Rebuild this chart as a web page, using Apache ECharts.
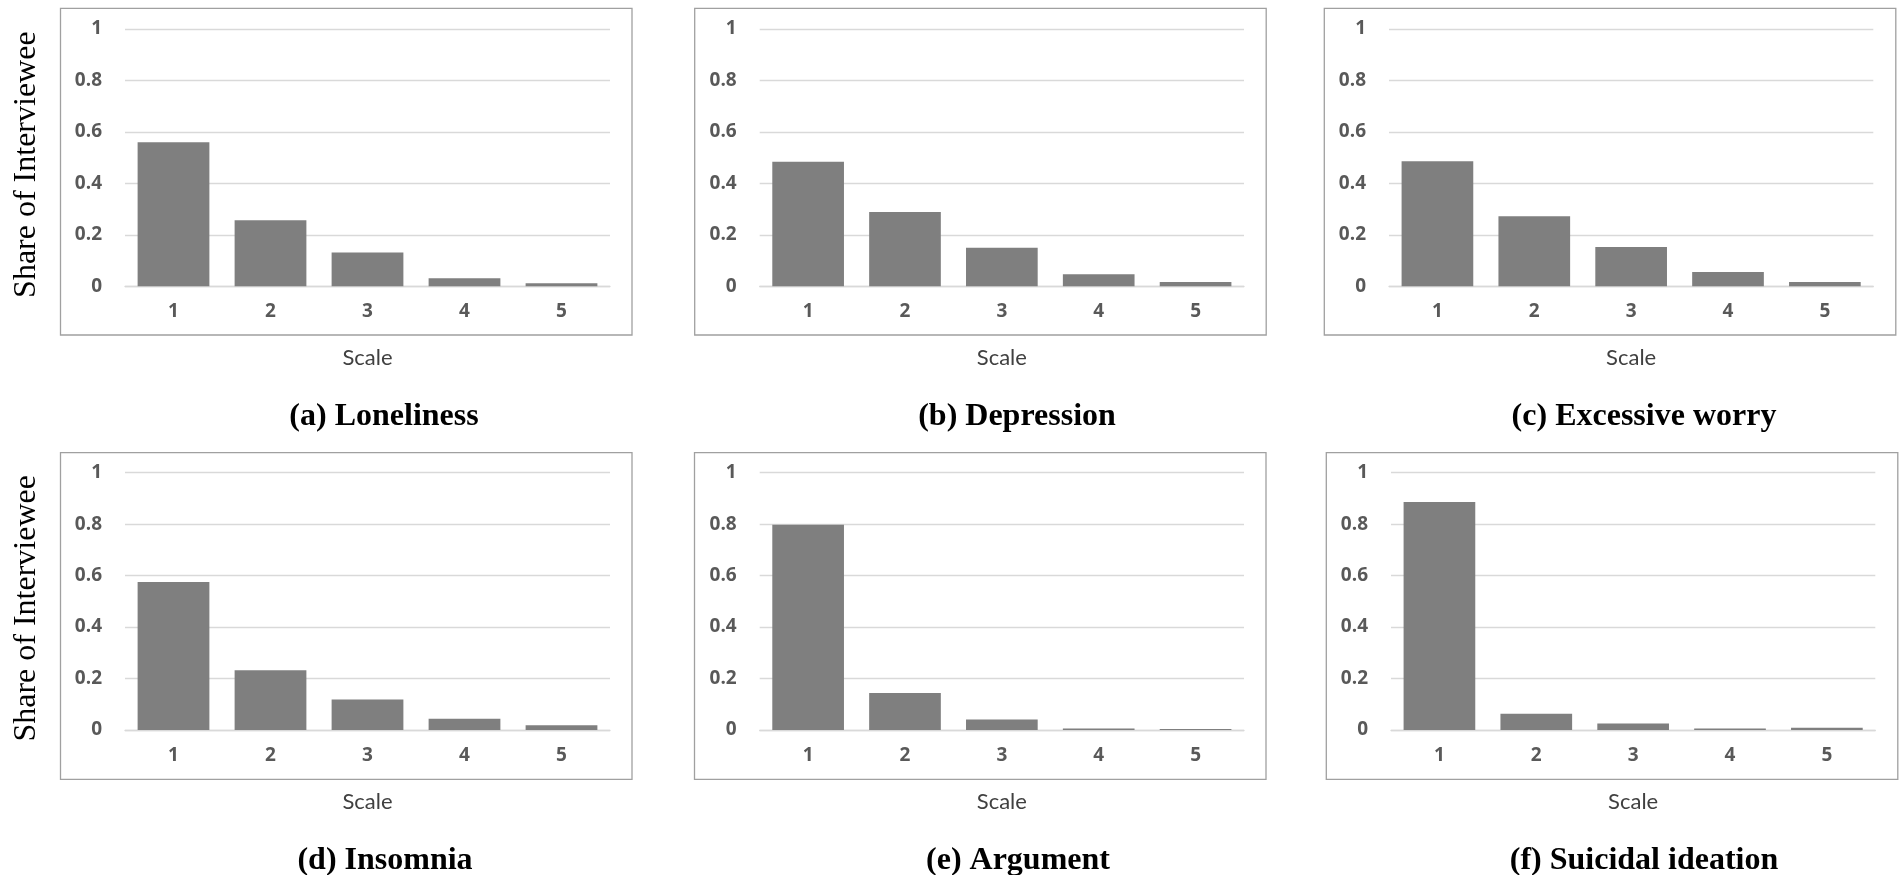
<!DOCTYPE html>
<html>
<head>
<meta charset="utf-8">
<script src="https://cdn.jsdelivr.net/npm/echarts@6/dist/echarts.min.js"></script>
<style>
  html, body { margin: 0; padding: 0; background: #ffffff; }
  #chart { width: 1901px; height: 875px; }
</style>
</head>
<body>
<div id="chart"></div>
<script>
// ---- data ----
const categories = ['1', '2', '3', '4', '5'];
const loneliness = [0.560, 0.257, 0.131, 0.031, 0.012];
const depression = [0.484, 0.289, 0.150, 0.047, 0.017];
const excessiveWorry = [0.486, 0.272, 0.153, 0.056, 0.017];
const insomnia = [0.575, 0.232, 0.119, 0.044, 0.018];
const argument = [0.798, 0.144, 0.041, 0.006, 0.004];
const suicidalIdeation = [0.886, 0.063, 0.025, 0.006, 0.009];
const panelTitles = ['(a) Loneliness', '(b) Depression', '(c) Excessive worry',
                     '(d) Insomnia', '(e) Argument', '(f) Suicidal ideation'];
const xAxisTitle = 'Scale';
const yAxisTitle = 'Share of Interviewee';
const yMin = 0, yMax = 1, yStep = 0.2;

// ---- layout (pixels) ----
const panels = [
  { data: loneliness,       grid: [125, 29, 485, 257.3],    box: [60.5, 8.3],   titleX: 379,  titleY: 412, nameY: true },
  { data: depression,       grid: [759.7, 29, 484.3, 257.3], box: [694.7, 8.3], titleX: 1012, titleY: 412 },
  { data: excessiveWorry,   grid: [1389, 29, 484.3, 257.3],  box: [1324.3, 8.3], titleX: 1639, titleY: 412 },
  { data: insomnia,         grid: [125, 472.7, 485, 257.3],  box: [60.5, 452.7], titleX: 380, titleY: 856, nameY: true },
  { data: argument,         grid: [759.7, 472.7, 484.3, 257.3], box: [694.5, 452.7], titleX: 1013, titleY: 856 },
  { data: suicidalIdeation, grid: [1391, 472.7, 484.3, 257.3], box: [1326.3, 452.7], titleX: 1639, titleY: 856 }
];
const boxW = 571.5, boxH = 326.7;

const grids = [], xAxes = [], yAxes = [], series = [], titles = [], graphics = [];
panels.forEach((p, i) => {
  grids.push({ left: p.grid[0], top: p.grid[1], width: p.grid[2], height: p.grid[3], containLabel: false });
  xAxes.push({
    type: 'category', gridIndex: i, data: categories,
    axisLine: { show: true, lineStyle: { color: '#d9d9d9', width: 1.3 } },
    axisTick: { show: false },
    axisLabel: { color: '#595959', fontFamily: 'Open Sans', fontWeight: 'bold', fontSize: 19, margin: 16 },
    name: xAxisTitle, nameLocation: 'middle', nameGap: 61,
    nameTextStyle: { color: '#404040', fontFamily: 'Lato', fontSize: 22 }
  });
  yAxes.push({
    type: 'value', gridIndex: i, min: yMin, max: yMax, interval: yStep,
    axisLine: { show: false }, axisTick: { show: false },
    splitLine: { show: true, lineStyle: { color: '#d9d9d9', width: 1.3 } },
    axisLabel: { color: '#595959', fontFamily: 'Open Sans', fontWeight: 'bold', fontSize: 19, margin: 23 },
    name: p.nameY ? yAxisTitle : '', nameLocation: 'middle', nameGap: 82,
    nameTextStyle: { color: '#000000', fontFamily: 'Liberation Serif', fontSize: 32, padding: [0, 14, 0, 0] }
  });
  series.push({
    type: 'bar', xAxisIndex: i, yAxisIndex: i, data: p.data,
    barCategoryGap: '26%', itemStyle: { color: '#7f7f7f' }, silent: true
  });
  titles.push({
    text: panelTitles[i], left: p.titleX, top: p.titleY, textAlign: 'center', textVerticalAlign: 'middle',
    textStyle: { color: '#000000', fontFamily: 'Liberation Serif', fontWeight: 'bold', fontSize: 32 }
  });
  graphics.push({
    type: 'rect', silent: true, z: -1,
    shape: { x: p.box[0], y: p.box[1], width: boxW, height: boxH },
    style: { fill: 'none', stroke: '#a0a0a0', lineWidth: 1.3 }
  });
});

const chart = echarts.init(document.getElementById('chart'), null, { renderer: 'canvas' });
chart.setOption({
  animation: false,
  backgroundColor: '#ffffff',
  title: titles,
  grid: grids,
  xAxis: xAxes,
  yAxis: yAxes,
  series: series,
  graphic: graphics
});
</script>
</body>
</html>
